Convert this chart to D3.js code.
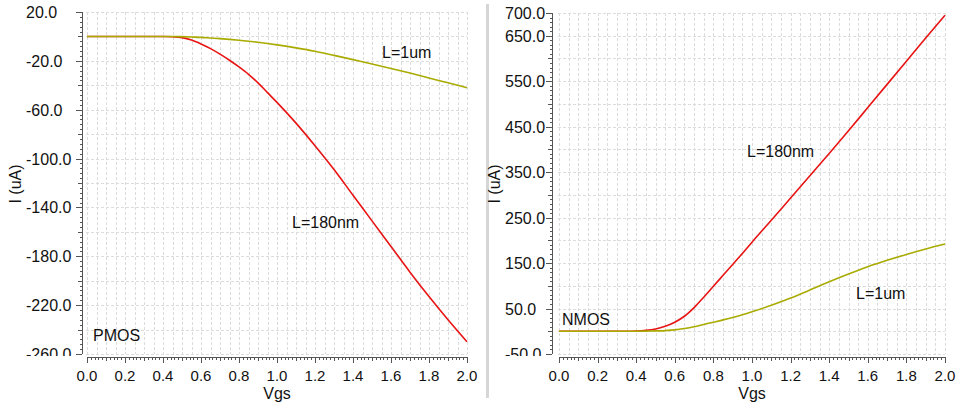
<!DOCTYPE html>
<html>
<head>
<meta charset="utf-8">
<script src="https://cdnjs.cloudflare.com/ajax/libs/d3/7.8.5/d3.min.js"></script>
<style>
  body { margin: 0; background: #fff; }
  text { font-family: "Liberation Sans", Arial, sans-serif; }
</style>
</head>
<body>
<div id="chart"></div>
<script>
// Gate voltage sweep points (V)
const vgs = [0.0, 0.1, 0.2, 0.3, 0.35, 0.4, 0.45, 0.5, 0.55, 0.6, 0.65, 0.7, 0.75, 0.8, 0.85, 0.9, 0.95,
             1.0, 1.1, 1.2, 1.3, 1.4, 1.5, 1.6, 1.7, 1.8, 1.9, 2.0];

// PMOS drain current (uA)
const pmos180nm = [0, 0, 0, 0, 0, 0, -0.3, -1, -3, -6.2, -10, -14.5, -19.5, -25, -31, -38, -46,
                   -54, -71, -89.5, -109, -130, -151, -172, -193, -213, -232, -250];
const pmos1um = [0, 0, 0, 0, 0, 0, 0, -0.2, -0.5, -0.8, -1.3, -1.8, -2.4, -3.1, -3.9, -4.8, -5.8,
                 -6.9, -9.4, -12.2, -15.5, -19, -22.5, -26.2, -30, -34, -38, -42];

// NMOS drain current (uA)
const nmos180nm = [0, 0, 0, 0, 0, 0.5, 2, 5, 11, 20, 33, 52, 75, 99, 123, 147, 171,
                   196, 244, 293, 342, 391, 441, 492, 543, 594, 645, 695];
const nmos1um = [0, 0, 0, 0, 0, 0, 0.3, 0.8, 1.5, 3, 6, 10, 15, 20, 25, 30.5, 36.5,
                 43, 57, 73, 91, 109, 126, 142, 156, 169, 181, 192];

// Tick labels
const xTickValues = [0.0, 0.2, 0.4, 0.6, 0.8, 1.0, 1.2, 1.4, 1.6, 1.8, 2.0];
const pmosTickValues = [20, -20, -60, -100, -140, -180, -220, -260];
const nmosTickValues = [700, 650, 550, 450, 350, 250, 150, 50, -50];

const red = "#e81414";
const olive = "#a9ab00";

const svg = d3.select("#chart").append("svg")
    .attr("width", 959)
    .attr("height", 407);

// Divider between the two panels
svg.append("line")
    .attr("x1", 487.5).attr("x2", 487.5)
    .attr("y1", 4).attr("y2", 398)
    .attr("stroke", "#d6d6d6")
    .attr("stroke-width", 3);

function drawPanel(p) {
    const g = svg.append("g");

    const x = d3.scaleLinear().domain([0, 2]).range([p.left, p.right]);
    const y = d3.scaleLinear().domain(p.yDomain).range([p.bottom, p.top]);

    // Grid (dashed)
    const grid = g.append("g")
        .attr("stroke", "#dcdcdc")
        .attr("stroke-dasharray", "3,2")
        .attr("stroke-width", 1);
    grid.selectAll(".vg")
        .data(d3.range(0, 2.0001, 0.05))
        .enter().append("line")
        .attr("x1", d => Math.round(x(d)) + 0.5).attr("x2", d => Math.round(x(d)) + 0.5)
        .attr("y1", p.top).attr("y2", p.bottom);
    grid.selectAll(".hg")
        .data(d3.range(p.yDomain[0], p.yDomain[1] + 0.001, p.gridStep))
        .enter().append("line")
        .attr("x1", p.left - 1).attr("x2", p.right)
        .attr("y1", d => Math.round(y(d)) + 0.5).attr("y2", d => Math.round(y(d)) + 0.5);

    // Y axis line and ticks
    const yAxis = g.append("g").attr("stroke", "#555").attr("stroke-width", 1);
    yAxis.append("line")
        .attr("x1", p.axisX + 0.5).attr("x2", p.axisX + 0.5)
        .attr("y1", p.top).attr("y2", p.bottom);
    yAxis.selectAll(".ym")
        .data(d3.range(p.yDomain[0], p.yDomain[1] + 0.001, p.minorStep))
        .enter().append("line")
        .attr("x1", d => {
            if (p.ticks.includes(d)) return p.axisX - 6;
            if (Math.abs(d % p.gridStep) < 0.001) return p.axisX - 4;
            return p.axisX - 2;
        })
        .attr("x2", p.axisX)
        .attr("y1", d => Math.round(y(d)) + 0.5).attr("y2", d => Math.round(y(d)) + 0.5);

    // Y tick labels, left aligned, clipped at the x axis
    g.append("clipPath").attr("id", "clip" + p.id)
        .append("rect").attr("x", 0).attr("y", 0).attr("width", 959).attr("height", 356);
    g.append("g")
        .attr("clip-path", "url(#clip" + p.id + ")")
        .selectAll("text")
        .data(p.ticks)
        .enter().append("text")
        .attr("x", p.labelX)
        .attr("y", d => y(d) + 6)
        .attr("font-size", 16)
        .attr("fill", "#111")
        .text(d => d.toFixed(1));

    // X axis line and ticks
    const xAxis = g.append("g").attr("stroke", "#555").attr("stroke-width", 1);
    xAxis.append("line")
        .attr("x1", x(0)).attr("x2", x(2))
        .attr("y1", p.axisY + 0.5).attr("y2", p.axisY + 0.5);
    xAxis.selectAll(".xm")
        .data(d3.range(0, 100.5, 1))
        .enter().append("line")
        .attr("x1", d => Math.round(x(d / 50)) + 0.5).attr("x2", d => Math.round(x(d / 50)) + 0.5)
        .attr("y1", p.axisY)
        .attr("y2", d => p.axisY + (d % 10 === 0 ? 6 : (d % 5 === 0 ? 4 : 3)));

    g.selectAll(".xl")
        .data(xTickValues)
        .enter().append("text")
        .attr("x", d => x(d))
        .attr("y", 381)
        .attr("text-anchor", "middle")
        .attr("font-size", 15)
        .attr("fill", "#111")
        .text(d => d.toFixed(1));

    // Axis titles
    g.append("text")
        .attr("x", (p.left + p.right) / 2)
        .attr("y", 399)
        .attr("text-anchor", "middle")
        .attr("font-size", 16)
        .attr("fill", "#111")
        .text("Vgs");
    g.append("text")
        .attr("transform", "translate(" + p.titleX + "," + 184 + ") rotate(-90)")
        .attr("text-anchor", "middle")
        .attr("font-size", 16)
        .attr("fill", "#111")
        .text("I (uA)");

    // Curves
    const line = d3.line()
        .x((d, i) => x(vgs[i]))
        .y(d => y(d))
        .curve(d3.curveMonotoneX);
    p.series.forEach(s => {
        g.append("path")
            .datum(s.values)
            .attr("d", line)
            .attr("fill", "none")
            .attr("stroke", s.color)
            .attr("stroke-width", 1.6);
    });

    // Annotations
    p.notes.forEach(n => {
        g.append("text")
            .attr("x", n.x)
            .attr("y", n.y)
            .attr("font-size", 16)
            .attr("fill", "#111")
            .text(n.text);
    });
}

drawPanel({
    id: "p",
    left: 87, right: 467, top: 12, bottom: 354,
    yDomain: [-260, 20], gridStep: 20, minorStep: 4,
    axisX: 82, axisY: 357, labelX: 26, titleX: 21,
    ticks: pmosTickValues,
    series: [
        { values: pmos180nm, color: red },
        { values: pmos1um, color: olive }
    ],
    notes: [
        { text: "L=1um", x: 382, y: 58 },
        { text: "L=180nm", x: 292, y: 228 },
        { text: "PMOS", x: 93, y: 341 }
    ]
});

drawPanel({
    id: "n",
    left: 559, right: 945, top: 13, bottom: 354,
    yDomain: [-50, 700], gridStep: 50, minorStep: 10,
    axisX: 552, axisY: 357, labelX: 505, titleX: 500,
    ticks: nmosTickValues,
    series: [
        { values: nmos180nm, color: red },
        { values: nmos1um, color: olive }
    ],
    notes: [
        { text: "L=180nm", x: 747, y: 157 },
        { text: "L=1um", x: 856, y: 299 },
        { text: "NMOS", x: 562, y: 325 }
    ]
});
</script>
</body>
</html>
